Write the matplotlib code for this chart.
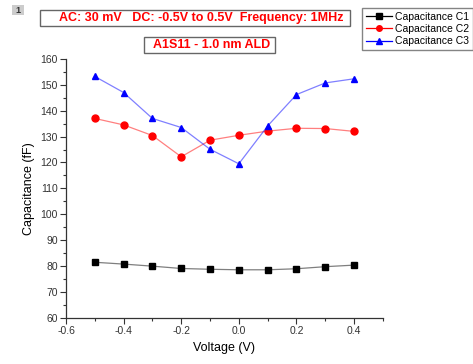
import matplotlib
matplotlib.use("Agg")
import matplotlib.pyplot as plt
from matplotlib.lines import Line2D
from matplotlib.patches import Rectangle
from matplotlib.ticker import MultipleLocator

plt.rcParams['font.family'] = ['Liberation Sans', 'DejaVu Sans']

voltage = [-0.5, -0.4, -0.3, -0.2, -0.1, 0.0, 0.1, 0.2, 0.3, 0.4]
cap_c1 = [81.5, 80.8, 80.0, 79.1, 78.8, 78.6, 78.6, 79.0, 79.8, 80.4]
cap_c2 = [137.0, 134.5, 130.4, 122.2, 128.6, 130.5, 132.1, 133.2, 133.1, 132.0]
cap_c3 = [153.2, 147.0, 137.0, 133.5, 125.1, 119.5, 134.1, 146.2, 150.7, 152.3]

series = [
    ("Capacitance C1", cap_c1, "black", "s"),
    ("Capacitance C2", cap_c2, "red", "o"),
    ("Capacitance C3", cap_c3, "blue", "^"),
]

fig = plt.figure(figsize=(4.73, 3.64), dpi=100)
ax = fig.add_axes([0.1395, 0.1264, 0.670, 0.712])

handles = []
for name, vals, col, mk in series:
    # line a bit faded like the original export, markers solid
    ax.plot(voltage, vals, color=col, lw=0.9, alpha=0.5)
    ax.plot(voltage, vals, ls="none", marker=mk, color=col, ms=5)
    handles.append(Line2D([], [], color=col, lw=0.9, marker=mk, ms=4))

ax.set_xlim(-0.6, 0.5)
ax.set_ylim(60, 160)
ax.xaxis.set_major_locator(MultipleLocator(0.2))
ax.xaxis.set_minor_locator(MultipleLocator(0.1))
ax.yaxis.set_major_locator(MultipleLocator(10))
ax.yaxis.set_minor_locator(MultipleLocator(5))
ax.set_xticks([-0.6, -0.4, -0.2, 0.0, 0.2, 0.4])
ax.set_xticklabels(["-0.6", "-0.4", "-0.2", "0.0", "0.2", "0.4"])
for s in ["top", "right"]:
    ax.spines[s].set_visible(False)
for s in ["left", "bottom"]:
    ax.spines[s].set_color("#333333")
    ax.spines[s].set_linewidth(0.9)
ax.tick_params(which="major", length=4, width=0.8, color="#333333",
               labelsize=7.5, labelcolor="#333333", pad=2)
ax.tick_params(which="minor", length=2.5, width=0.8, color="#333333")
ax.set_xlabel("Voltage (V)", fontsize=9, labelpad=4)
ax.set_ylabel("Capacitance (fF)", fontsize=9, labelpad=4)

# title boxes (drawn as figure rectangles so the padding matches)
fig.patches.append(Rectangle((0.0846, 0.9286), 0.655, 0.044, transform=fig.transFigure,
                             fc="white", ec="#666666", lw=1))
fig.text(0.726, 0.9505, "AC: 30 mV   DC: -0.5V to 0.5V  Frequency: 1MHz",
         color="red", fontsize=9, fontweight="bold", ha="right", va="center")
fig.patches.append(Rectangle((0.3044, 0.8544), 0.277, 0.044, transform=fig.transFigure,
                             fc="white", ec="#666666", lw=1))
fig.text(0.448, 0.876, "A1S11 - 1.0 nm ALD", color="red", fontsize=9,
         fontweight="bold", ha="center", va="center")
fig.patches.append(Rectangle((0.0254, 0.958), 0.0254, 0.0275, transform=fig.transFigure,
                             fc="#cccccc", ec="none"))
fig.text(0.038, 0.972, "1", fontsize=6.5, fontweight="bold", color="#333333",
         ha="center", va="center")

leg = fig.legend(handles, [s[0] for s in series], loc="upper right",
                 bbox_to_anchor=(0.999, 0.978), fontsize=7.5, frameon=True,
                 fancybox=False, handlelength=2.5, borderpad=0.35,
                 labelspacing=0.22, handletextpad=0.3, borderaxespad=0)
leg.get_frame().set_edgecolor("#666666")
leg.get_frame().set_linewidth(1)

fig.savefig("out.png", dpi=100)
